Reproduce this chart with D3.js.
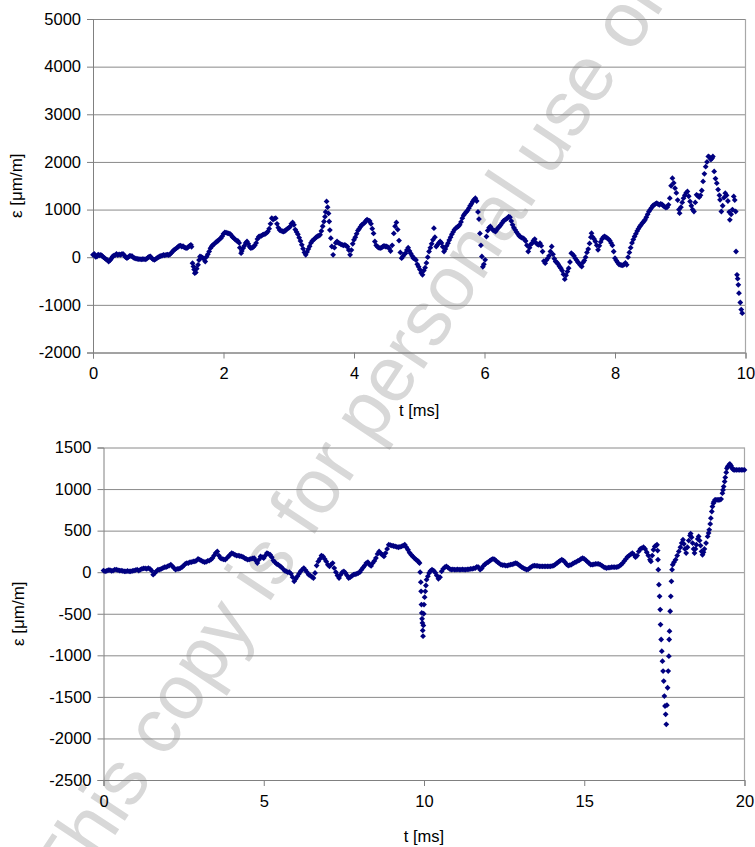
<!DOCTYPE html>
<html>
<head>
<meta charset="utf-8">
<script src="https://cdn.jsdelivr.net/npm/d3@7"></script>
<style>
  html, body { margin: 0; padding: 0; background: #ffffff; }
  svg { display: block; }
</style>
</head>
<body>
<svg id="chart" width="755" height="847"></svg>
<script>
// ---------------- DATA ----------------
// Top chart: strain ε [µm/m] vs time t [ms] (0–10 ms), [t, ε]
const topPoints = [
[0.00,50],[0.02,70],[0.04,10],[0.06,15],[0.08,55],[0.10,40],[0.12,50],[0.14,25],[0.16,0],[0.18,-20],
[0.20,-45],[0.22,-60],[0.24,-90],[0.26,-65],[0.28,-30],[0.30,15],[0.32,35],[0.34,45],[0.36,70],[0.38,45],
[0.40,60],[0.42,50],[0.44,65],[0.46,70],[0.48,40],[0.50,0],[0.52,-20],[0.54,0],[0.56,25],[0.58,30],
[0.60,20],[0.62,-10],[0.64,-20],[0.66,-30],[0.68,-35],[0.70,-40],[0.72,-40],[0.74,-45],[0.76,-40],[0.78,-40],
[0.80,-45],[0.82,-35],[0.84,-10],[0.86,10],[0.88,15],[0.90,-20],[0.92,-45],[0.94,-55],[0.96,-40],[0.98,-20],
[1.00,0],[1.02,15],[1.04,25],[1.06,35],[1.08,50],[1.10,40],[1.12,50],[1.14,55],[1.16,45],[1.18,60],
[1.20,90],[1.22,120],[1.24,150],[1.26,170],[1.28,190],[1.30,210],[1.32,240],[1.34,245],[1.36,225],[1.38,230],
[1.40,205],[1.42,195],[1.44,190],[1.46,215],[1.48,240],[1.50,260],[1.51,220],[1.525,-125],[1.54,-195],[1.55,-260],
[1.56,-335],[1.575,-320],[1.59,-240],[1.61,-160],[1.625,-60],[1.64,15],[1.66,5],[1.68,-10],[1.70,-40],[1.72,-90],
[1.74,10],[1.76,60],[1.78,120],[1.80,190],[1.82,230],[1.84,260],[1.86,280],[1.88,310],[1.90,330],[1.92,350],
[1.94,380],[1.96,400],[1.98,440],[2.00,490],[2.02,520],[2.04,515],[2.06,505],[2.08,500],[2.10,490],[2.12,460],
[2.14,420],[2.16,400],[2.18,370],[2.20,350],[2.22,340],[2.24,300],[2.25,200],[2.27,85],[2.28,130],[2.30,190],
[2.32,240],[2.34,300],[2.36,330],[2.38,280],[2.40,220],[2.42,190],[2.44,200],[2.46,220],[2.48,250],[2.50,300],
[2.52,380],[2.54,430],[2.56,440],[2.58,450],[2.60,470],[2.62,480],[2.64,490],[2.66,510],[2.68,540],[2.70,600],
[2.72,700],[2.74,820],[2.76,790],[2.78,810],[2.80,820],[2.82,700],[2.84,620],[2.86,570],[2.88,560],[2.90,545],
[2.92,540],[2.94,550],[2.96,575],[2.98,600],[3.00,615],[3.02,640],[3.04,700],[3.06,730],[3.08,680],[3.10,580],
[3.12,530],[3.14,480],[3.16,410],[3.18,340],[3.20,260],[3.22,180],[3.24,100],[3.26,50],[3.28,110],[3.30,170],
[3.32,230],[3.34,300],[3.36,340],[3.38,370],[3.40,390],[3.42,420],[3.44,440],[3.46,450],[3.48,470],[3.50,550],
[3.52,650],[3.54,750],[3.555,850],[3.565,950],[3.58,1170],[3.595,1050],[3.61,920],[3.62,750],[3.63,570],[3.645,400],
[3.66,225],[3.68,50],[3.70,200],[3.72,300],[3.74,330],[3.76,300],[3.78,290],[3.80,270],[3.82,260],[3.84,250],
[3.86,260],[3.88,240],[3.90,220],[3.92,150],[3.94,50],[3.96,150],[3.98,280],[4.00,365],[4.02,420],[4.04,490],
[4.06,560],[4.08,600],[4.10,640],[4.12,680],[4.14,700],[4.16,720],[4.18,760],[4.20,790],[4.22,770],[4.24,760],
[4.26,700],[4.28,600],[4.30,500],[4.32,330],[4.34,250],[4.36,220],[4.38,200],[4.40,190],[4.42,200],[4.44,220],
[4.46,240],[4.48,225],[4.50,225],[4.52,210],[4.54,190],[4.56,130],[4.585,250],[4.61,500],[4.63,650],[4.65,730],
[4.67,580],[4.69,350],[4.71,100],[4.73,-20],[4.75,20],[4.77,60],[4.79,85],[4.81,150],[4.83,200],[4.85,130],
[4.87,80],[4.89,30],[4.91,-20],[4.93,-30],[4.95,-60],[4.97,-150],[4.99,-200],[5.01,-260],[5.03,-330],[5.05,-370],
[5.07,-280],[5.09,-220],[5.11,-120],[5.13,0],[5.15,120],[5.17,200],[5.19,280],[5.21,365],[5.225,610],[5.24,420],
[5.26,225],[5.28,260],[5.30,300],[5.32,330],[5.34,300],[5.36,220],[5.38,120],[5.40,170],[5.42,240],[5.44,295],
[5.46,360],[5.48,420],[5.50,480],[5.52,530],[5.54,580],[5.56,610],[5.58,630],[5.60,650],[5.62,680],[5.64,740],
[5.66,820],[5.68,880],[5.70,920],[5.72,950],[5.74,980],[5.76,1030],[5.78,1080],[5.80,1120],[5.82,1170],[5.84,1210],
[5.86,1240],[5.88,1180],[5.90,950],[5.915,800],[5.93,500],[5.945,250],[5.96,15],[5.975,-200],[5.99,-150],[6.01,-55],
[6.03,435],[6.05,560],[6.07,620],[6.09,645],[6.11,600],[6.13,570],[6.15,555],[6.17,540],[6.19,580],[6.21,620],
[6.23,645],[6.25,680],[6.27,720],[6.29,760],[6.31,780],[6.33,800],[6.35,820],[6.37,850],[6.39,840],[6.41,760],
[6.43,680],[6.45,620],[6.47,575],[6.49,530],[6.51,490],[6.53,450],[6.55,430],[6.57,410],[6.59,400],[6.61,380],
[6.63,340],[6.65,250],[6.67,120],[6.69,200],[6.71,270],[6.73,295],[6.75,350],[6.77,380],[6.79,300],[6.81,270],
[6.83,260],[6.85,295],[6.87,240],[6.89,120],[6.91,-80],[6.93,-125],[6.95,-60],[6.97,-20],[6.99,30],[7.01,120],
[7.03,225],[7.05,60],[7.07,-30],[7.09,-90],[7.11,-110],[7.13,-150],[7.15,-195],[7.17,-230],[7.19,-280],[7.21,-360],
[7.23,-460],[7.25,-380],[7.27,-300],[7.29,-230],[7.31,-100],[7.33,85],[7.35,60],[7.37,30],[7.39,-20],[7.41,-60],
[7.43,-100],[7.45,-130],[7.47,-170],[7.49,-195],[7.51,-110],[7.53,-70],[7.55,0],[7.57,100],[7.59,170],[7.61,290],
[7.63,420],[7.64,505],[7.66,420],[7.68,380],[7.70,330],[7.72,250],[7.74,155],[7.76,240],[7.78,320],[7.80,380],
[7.82,420],[7.84,435],[7.86,420],[7.88,400],[7.90,380],[7.92,350],[7.94,300],[7.96,250],[7.98,120],[8.00,-20],
[8.02,-70],[8.04,-110],[8.06,-150],[8.08,-160],[8.10,-165],[8.12,-170],[8.14,-150],[8.16,-120],[8.18,-160],[8.20,0],
[8.22,100],[8.24,200],[8.26,300],[8.28,370],[8.30,435],[8.32,490],[8.34,550],[8.36,600],[8.38,645],[8.40,680],
[8.42,720],[8.44,750],[8.46,785],[8.48,840],[8.50,900],[8.52,960],[8.54,1000],[8.56,1040],[8.58,1080],[8.60,1100],
[8.62,1120],[8.64,1135],[8.66,1115],[8.68,1100],[8.70,1120],[8.72,1110],[8.74,1080],[8.76,1060],[8.78,1040],[8.80,1050],
[8.82,1100],[8.84,1240],[8.86,1500],[8.88,1660],[8.90,1560],[8.92,1450],[8.94,1350],[8.96,1200],[8.98,1000],[8.99,925],
[9.01,1050],[9.03,1150],[9.05,1240],[9.07,1300],[9.09,1350],[9.11,1380],[9.13,1280],[9.15,1170],[9.17,1080],[9.19,1000],
[9.21,960],[9.23,1150],[9.25,1310],[9.27,1290],[9.29,1260],[9.31,1300],[9.33,1400],[9.35,1590],[9.37,1750],[9.39,1900],
[9.41,2000],[9.43,2115],[9.45,2100],[9.47,2050],[9.49,2080],[9.50,2115],[9.52,1800],[9.54,1650],[9.56,1555],[9.58,1420],
[9.60,1300],[9.61,1205],[9.63,960],[9.65,1080],[9.67,1250],[9.69,1345],[9.71,1300],[9.73,1180],[9.75,950],[9.76,785],
[9.78,900],[9.80,1000],[9.82,1275],[9.835,1200],[9.85,960],[9.855,120],[9.87,-370],[9.88,-450],[9.89,-580],[9.90,-755],
[9.92,-950],[9.935,-1100],[9.95,-1175]
];

// Bottom chart: strain ε [µm/m] vs time t [ms] (0–20 ms), [t, ε]
const bottomPoints = [
[0.00,20],[0.05,10],[0.10,15],[0.15,25],[0.20,25],[0.25,15],[0.30,20],[0.35,30],[0.40,30],[0.45,25],
[0.50,20],[0.55,20],[0.60,15],[0.65,10],[0.70,10],[0.75,15],[0.80,10],[0.85,10],[0.90,15],[0.95,20],
[1.00,25],[1.05,30],[1.10,20],[1.15,30],[1.20,40],[1.25,45],[1.30,45],[1.35,40],[1.40,50],[1.45,40],
[1.50,20],[1.55,-30],[1.60,-10],[1.65,10],[1.70,30],[1.75,30],[1.80,40],[1.85,50],[1.90,60],[1.95,60],
[2.00,70],[2.05,80],[2.10,90],[2.15,70],[2.20,50],[2.25,30],[2.30,40],[2.35,40],[2.40,50],[2.45,60],
[2.50,80],[2.55,100],[2.60,110],[2.65,110],[2.70,120],[2.75,120],[2.80,130],[2.85,130],[2.90,140],[2.95,160],
[3.00,150],[3.05,140],[3.10,130],[3.15,120],[3.20,125],[3.25,135],[3.30,140],[3.35,150],[3.40,170],[3.45,200],
[3.50,230],[3.55,250],[3.60,200],[3.65,170],[3.70,160],[3.75,155],[3.80,150],[3.85,170],[3.90,190],[3.95,210],
[4.00,230],[4.05,220],[4.10,210],[4.15,200],[4.20,200],[4.25,195],[4.30,190],[4.35,185],[4.40,170],[4.45,160],
[4.50,150],[4.55,155],[4.60,160],[4.65,165],[4.70,170],[4.75,140],[4.80,110],[4.85,150],[4.90,190],[4.95,180],
[5.00,170],[5.05,200],[5.10,230],[5.15,220],[5.20,210],[5.25,180],[5.30,140],[5.35,120],[5.40,100],[5.45,90],
[5.50,75],[5.55,60],[5.60,40],[5.65,20],[5.70,10],[5.75,0],[5.80,0],[5.85,-20],[5.90,-60],[5.95,-110],
[6.00,-80],[6.05,-50],[6.10,-20],[6.15,10],[6.20,30],[6.25,50],[6.30,25],[6.35,0],[6.40,-30],[6.45,-40],
[6.50,-55],[6.55,-70],[6.60,-10],[6.65,80],[6.70,130],[6.75,160],[6.80,200],[6.85,190],[6.90,160],[6.95,130],
[7.00,90],[7.05,70],[7.10,90],[7.15,110],[7.20,50],[7.25,0],[7.30,-40],[7.35,-70],[7.40,-30],[7.45,0],
[7.50,10],[7.55,-10],[7.60,-40],[7.65,-70],[7.70,-60],[7.75,-45],[7.80,-30],[7.85,-25],[7.90,-20],[7.95,-10],
[8.00,0],[8.05,30],[8.10,55],[8.15,80],[8.20,110],[8.25,120],[8.30,90],[8.35,75],[8.40,110],[8.45,135],
[8.50,170],[8.55,220],[8.60,250],[8.65,225],[8.70,210],[8.75,190],[8.80,230],[8.85,280],[8.90,330],[8.95,325],
[9.00,320],[9.05,315],[9.10,310],[9.15,305],[9.20,300],[9.25,305],[9.30,310],[9.35,320],[9.40,330],[9.45,300],
[9.50,270],[9.55,235],[9.60,210],[9.65,190],[9.70,170],[9.75,150],[9.80,140],[9.84,120],[9.86,110],[9.88,0],
[9.90,-120],[9.91,-230],[9.92,-390],[9.93,-490],[9.94,-560],[9.95,-610],[9.96,-700],[9.97,-770],[9.98,-640],[9.99,-500],
[10.00,-390],[10.02,-300],[10.04,-230],[10.06,-160],[10.08,-90],[10.12,-50],[10.16,-10],[10.20,15],[10.25,30],[10.30,20],
[10.35,-5],[10.40,-40],[10.45,-80],[10.50,-60],[10.55,10],[10.60,40],[10.65,60],[10.70,70],[10.75,55],[10.80,40],
[10.85,30],[10.90,35],[10.95,30],[11.00,30],[11.05,35],[11.10,30],[11.15,30],[11.20,35],[11.25,30],[11.30,30],
[11.35,35],[11.40,35],[11.45,40],[11.50,40],[11.55,45],[11.60,50],[11.65,65],[11.70,60],[11.75,30],[11.80,45],
[11.85,75],[11.90,95],[11.95,110],[12.00,120],[12.05,135],[12.10,150],[12.15,160],[12.20,155],[12.25,135],[12.30,120],
[12.35,105],[12.40,90],[12.45,85],[12.50,85],[12.55,80],[12.60,80],[12.65,85],[12.70,90],[12.75,95],[12.80,100],
[12.85,110],[12.90,105],[12.95,90],[13.00,75],[13.05,60],[13.10,50],[13.15,40],[13.20,30],[13.25,35],[13.30,50],
[13.35,65],[13.40,75],[13.45,80],[13.50,75],[13.55,75],[13.60,70],[13.65,70],[13.70,70],[13.75,70],[13.80,70],
[13.85,70],[13.90,70],[13.95,70],[14.00,75],[14.05,80],[14.10,95],[14.15,110],[14.20,125],[14.25,140],[14.30,150],
[14.35,140],[14.40,120],[14.45,95],[14.50,80],[14.55,85],[14.60,90],[14.65,105],[14.70,115],[14.75,125],[14.80,135],
[14.85,145],[14.90,160],[14.95,170],[15.00,160],[15.05,145],[15.10,125],[15.15,110],[15.20,90],[15.25,90],[15.30,95],
[15.35,100],[15.40,100],[15.45,100],[15.50,90],[15.55,80],[15.60,65],[15.65,55],[15.70,50],[15.75,55],[15.80,55],
[15.85,60],[15.90,60],[15.95,60],[16.00,60],[16.05,65],[16.10,75],[16.15,90],[16.20,110],[16.25,135],[16.30,160],
[16.35,185],[16.40,200],[16.45,215],[16.50,230],[16.55,210],[16.60,180],[16.65,200],[16.70,250],[16.75,280],[16.80,290],
[16.85,300],[16.90,280],[16.95,240],[17.00,200],[17.05,150],[17.08,130],[17.12,200],[17.16,270],[17.20,310],[17.24,320],
[17.27,330],[17.29,260],[17.30,150],[17.31,30],[17.33,-150],[17.35,-290],[17.37,-450],[17.38,-630],[17.40,-810],[17.42,-950],
[17.44,-1070],[17.46,-1190],[17.48,-1310],[17.50,-1490],[17.52,-1610],[17.54,-1710],[17.56,-1830],[17.58,-1600],[17.60,-1390],[17.62,-1190],
[17.64,-1010],[17.65,-810],[17.66,-710],[17.68,-470],[17.70,-290],[17.72,-110],[17.74,30],[17.76,90],[17.80,120],[17.85,150],
[17.90,200],[17.95,250],[18.00,300],[18.04,350],[18.08,390],[18.11,340],[18.14,280],[18.18,230],[18.22,300],[18.26,380],
[18.30,440],[18.32,465],[18.35,420],[18.38,350],[18.41,280],[18.44,230],[18.47,280],[18.50,330],[18.54,400],[18.57,430],
[18.60,380],[18.63,320],[18.66,250],[18.69,210],[18.72,240],[18.75,280],[18.80,350],[18.85,430],[18.88,470],[18.90,510],
[18.93,580],[18.95,650],[18.98,730],[19.00,790],[19.03,830],[19.05,850],[19.08,870],[19.11,870],[19.15,870],[19.19,870],
[19.23,870],[19.27,880],[19.31,950],[19.33,990],[19.35,1030],[19.38,1090],[19.40,1140],[19.43,1200],[19.45,1250],[19.48,1270],
[19.50,1280],[19.53,1300],[19.55,1300],[19.58,1280],[19.60,1260],[19.63,1240],[19.67,1230],[19.70,1230],[19.75,1230],[19.80,1230],
[19.85,1230],[19.90,1230],[19.95,1230],[20.00,1230]
];

const topXTicks = [0, 2, 4, 6, 8, 10];
const topYTicks = [-2000, -1000, 0, 1000, 2000, 3000, 4000, 5000];
const bottomXTicks = [0, 5, 10, 15, 20];
const bottomYTicks = [-2500, -2000, -1500, -1000, -500, 0, 500, 1000, 1500];
const xTitle = "t [ms]";
const yTitle = "ε [μm/m]";
const watermarkText = "This copy is for personal use only";

// ---------------- DRAW ----------------
const svg = d3.select("#chart");
const FONT = "'Liberation Sans', Arial, sans-serif";
const MARK = "#000080";
const fmt = d => String(d);   // plain hyphen-minus, as in the original

svg.append("rect").attr("width", 755).attr("height", 847).attr("fill", "#ffffff");

// watermark (behind everything)
svg.append("text")
  .attr("transform", "translate(374,407) rotate(-56.5)")
  .attr("text-anchor", "middle")
  .attr("dominant-baseline", "middle")
  .attr("font-family", FONT)
  .attr("font-size", 78)
  .attr("fill", "#d8d8d8")
  .text(watermarkText);

function drawPanel(cfg) {
  const x = d3.scaleLinear().domain(cfg.xDomain).range([cfg.left, cfg.right]);
  const y = d3.scaleLinear().domain(cfg.yDomain).range([cfg.bottom, cfg.top]);
  const g = svg.append("g");

  // gridlines
  g.append("g")
    .attr("transform", `translate(${cfg.left},0)`)
    .call(d3.axisLeft(y).tickValues(cfg.yTicks).tickSize(-(cfg.right - cfg.left)).tickFormat(""))
    .call(s => s.select(".domain").remove())
    .call(s => s.selectAll("line").attr("stroke", "#8a8a8a").attr("stroke-width", 1));

  // plot border (right)
  g.append("line").attr("x1", x(cfg.xDomain[1])).attr("x2", x(cfg.xDomain[1]))
    .attr("y1", y(cfg.yDomain[0])).attr("y2", y(cfg.yDomain[1]))
    .attr("stroke", "#a8a8a8").attr("stroke-width", 1.2);

  // y axis
  const ya = g.append("g")
    .attr("transform", `translate(${cfg.left},0)`)
    .call(d3.axisLeft(y).tickValues(cfg.yTicks).tickSize(6).tickPadding(6).tickFormat(fmt));
  ya.select(".domain").attr("stroke", "#808080");
  ya.selectAll(".tick line").attr("stroke", "#808080");
  ya.selectAll("text").attr("font-family", FONT).attr("font-size", 16.5).attr("fill", "#000");

  // x axis
  const xa = g.append("g")
    .attr("transform", `translate(0,${cfg.bottom})`)
    .call(d3.axisBottom(x).tickValues(cfg.xTicks).tickSize(6).tickPadding(9).tickFormat(fmt));
  xa.select(".domain").attr("stroke", "#808080");
  xa.selectAll(".tick line").attr("stroke", "#808080");
  xa.selectAll("text").attr("font-family", FONT).attr("font-size", 16.5).attr("fill", "#000");

  // axis titles
  g.append("text")
    .attr("x", (cfg.left + cfg.right) / 2).attr("y", cfg.xTitleY)
    .attr("text-anchor", "middle").attr("font-family", FONT).attr("font-size", 16.5)
    .text(xTitle);
  g.append("text")
    .attr("transform", `translate(${cfg.yTitleX},${(cfg.top + cfg.bottom) / 2}) rotate(-90)`)
    .attr("text-anchor", "middle").attr("font-family", FONT).attr("font-size", 17)
    .text(yTitle);

  // markers (diamonds)
  const r = 2.9;
  g.append("g").selectAll("path").data(cfg.data).join("path")
    .attr("transform", d => `translate(${x(d[0])},${y(d[1])})`)
    .attr("d", `M0,${-r}L${r},0L0,${r}L${-r},0Z`)
    .attr("fill", MARK);
}

drawPanel({
  data: topPoints, xDomain: [0, 10], yDomain: [-2000, 5000],
  left: 93, right: 745.5, top: 19, bottom: 352.5,
  xTicks: topXTicks, yTicks: topYTicks, xTitleY: 416, yTitleX: 22
});

drawPanel({
  data: bottomPoints, xDomain: [0, 20], yDomain: [-2500, 1500],
  left: 103.5, right: 744.5, top: 447.5, bottom: 780,
  xTicks: bottomXTicks, yTicks: bottomYTicks, xTitleY: 842, yTitleX: 24
});
</script>
</body>
</html>
